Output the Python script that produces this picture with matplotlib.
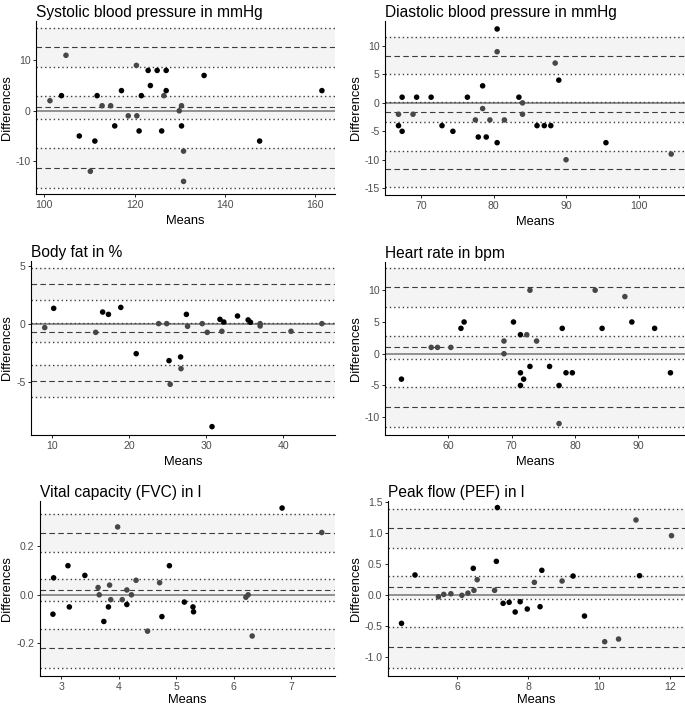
import matplotlib
matplotlib.use('Agg')
import matplotlib.pyplot as plt

plt.rcParams['font.family'] = ['Liberation Sans', 'DejaVu Sans']
plt.rcParams['axes.unicode_minus'] = False

# ---- data: means (x), differences (y), shade (0 = black, 1 = dark grey) ----
sys_x = [101.25, 103.8, 104.8, 107.75, 110.2, 111.2, 111.7, 112.8, 114.7, 115.6, 117.1,
         118.6, 120.4, 120.5, 121.0, 121.5, 123.0, 123.5, 125.0, 126.0, 126.5, 127.0,
         127.0, 129.9, 130.4, 130.4, 130.85, 130.85, 135.4, 147.7, 161.5]
sys_y = [2, 3, 11, -5, -12, -6, 3, 1, 1, -3, 4, -1, 9, -1, -4, 3, 8, 5, 8, -4, 3, 8,
         4, 0, -3, 1, -8, -14, 7, -6, 4]
sys_c = [1, 0, 1, 0, 1, 0, 0, 1, 1, 0, 0, 1, 1, 1, 0, 0, 0, 0, 0, 0, 1, 0,
         0, 1, 0, 1, 1, 1, 0, 0, 0]

dia_x = [66.9, 66.9, 67.4, 67.4, 68.9, 69.4, 71.4, 72.9, 74.4, 76.4, 77.5, 77.9, 78.5,
         78.5, 79.0, 79.5, 80.5, 80.5, 80.5, 81.5, 83.5, 84.0, 84.0, 86.0, 87.0, 87.9,
         88.5, 89.0, 90.0, 95.5, 104.5]
dia_y = [-2, -4, 1, -5, -2, 1, 1, -4, -5, 1, -3, -6, 3, -1, -6, -3, 13, 9, -7, -3, 1,
         0, -2, -4, -4, -4, 7, 4, -10, -7, -9]
dia_c = [1, 0, 0, 0, 1, 0, 0, 0, 0, 0, 1, 0, 0, 1, 0, 1, 0, 1, 0, 1, 0, 1, 1, 0, 0, 0,
         1, 0, 1, 0, 1]

fat_x = [9.1, 10.26, 15.7, 16.6, 17.35, 18.95, 20.95, 23.85, 24.9, 25.2, 25.35, 26.7,
         26.75, 27.45, 27.6, 29.5, 30.15, 30.77, 31.8, 32.05, 32.3, 34.07, 35.45, 35.75,
         37.0, 37.0, 41.0, 45.0]
fat_y = [-0.34, 1.32, -0.75, 1.0, 0.8, 1.4, -2.59, 0.0, 0.0, -3.19, -5.23, -2.87, -3.88,
         0.8, -0.23, 0.0, -0.75, -8.88, 0.37, -0.66, 0.14, 0.66, 0.32, 0.12, 0.0, -0.2,
         -0.66, 0.0]
fat_c = [1, 0, 1, 0, 0, 0, 0, 1, 1, 0, 1, 0, 1, 0, 1, 1, 1, 0, 0, 1, 0, 0, 0, 0, 1, 1,
         1, 1]

hr_x = [52.6, 57.3, 58.3, 60.4, 62.0, 62.5, 68.8, 68.8, 70.3, 71.4, 71.4, 71.4, 71.9,
        72.4, 72.9, 72.9, 73.95, 76.0, 77.5, 77.5, 78.0, 78.6, 79.6, 83.2, 84.3, 87.9,
        89.0, 92.6, 95.1]
hr_y = [-4, 1, 1, 1, 4, 5, 2, 0, 5, 3, -3, -5, -4, 3, 10, -2, 2, -2, -5, -11, 4, -3, -3,
        10, 4, 9, 5, 4, -3]
hr_c = [0, 1, 1, 1, 0, 0, 1, 1, 0, 0, 0, 0, 0, 1, 1, 0, 1, 0, 0, 1, 0, 0, 0, 1, 0, 1,
        0, 0, 0]

fvc_x = [2.855, 2.867, 3.116, 3.14, 3.41, 3.64, 3.66, 3.74, 3.82, 3.84, 3.86, 3.98, 4.06,
         4.14, 4.14, 4.22, 4.30, 4.50, 4.71, 4.75, 4.88, 5.14, 5.29, 5.30, 6.21, 6.25,
         6.32, 6.84, 7.53]
fvc_y = [-0.08, 0.07, 0.12, -0.05, 0.08, 0.03, 0.0, -0.11, -0.05, 0.04, -0.02, 0.28, -0.02,
         0.02, -0.04, 0.0, 0.06, -0.15, 0.05, -0.09, 0.12, -0.03, -0.05, -0.07, -0.01, 0.0,
         -0.17, 0.358, 0.257]
fvc_c = [0, 0, 0, 0, 0, 1, 1, 0, 0, 1, 1, 1, 1, 1, 0, 1, 1, 1, 1, 0, 0, 0, 0, 0, 1, 1,
         1, 0, 1]

pef_x = [4.43, 4.81, 5.47, 5.62, 5.82, 6.13, 6.30, 6.45, 6.47, 6.56, 7.05, 7.10, 7.13,
         7.29, 7.46, 7.63, 7.77, 7.97, 8.17, 8.33, 8.38, 8.95, 9.26, 9.58, 10.15, 10.54,
         11.03, 11.13, 12.03]
pef_y = [-0.457, 0.323, -0.03, 0.01, 0.02, -0.005, 0.03, 0.43, 0.075, 0.247, 0.075, 0.543,
         1.41, -0.134, -0.118, -0.274, -0.108, -0.226, 0.204, -0.188, 0.398, 0.226, 0.306,
         -0.339, -0.753, -0.71, 1.21, 0.312, 0.957]
pef_c = [0, 0, 1, 1, 1, 1, 1, 0, 1, 1, 1, 0, 0, 0, 0, 0, 0, 0, 1, 0, 0, 1, 0, 0, 1, 1,
         1, 0, 1]

# reference lines: upper LoA (CI hi, est, CI lo), mean (hi, est, lo), lower LoA (hi, est, lo)
sys_lines = [16.36, 12.58, 8.74, 2.91, 0.66, -1.59, -7.35, -11.32, -15.23]
dia_lines = [11.56, 8.29, 5.14, 0.18, -1.69, -3.44, -8.41, -11.56, -14.83]
fat_lines = [4.8, 3.45, 2.07, 0.03, -0.75, -1.58, -3.59, -4.94, -6.32]
hr_lines = [13.5, 10.45, 7.35, 2.83, 1.0, -0.79, -5.3, -8.45, -11.55]
fvc_lines = [0.334, 0.254, 0.176, 0.065, 0.018, -0.0275, -0.14, -0.221, -0.301]
pef_lines = [1.387, 1.075, 0.753, 0.306, 0.124, -0.07, -0.52, -0.844, -1.17]

titles = ['Systolic blood pressure in mmHg', 'Diastolic blood pressure in mmHg',
          'Body fat in %', 'Heart rate in bpm', 'Vital capacity (FVC) in l', 'Peak flow (PEF) in l']

xticks = [[100, 120, 140, 160], [70, 80, 90, 100], [10, 20, 30, 40], [60, 70, 80, 90],
          [3, 4, 5, 6, 7], [6, 8, 10, 12]]
yticks = [[-10, 0, 10], [-15, -10, -5, 0, 5, 10], [-5, 0, 5], [-10, -5, 0, 5, 10],
          [-0.2, 0.0, 0.2], [-1.0, -0.5, 0.0, 0.5, 1.0, 1.5]]
yfmt = ['{:g}', '{:g}', '{:g}', '{:g}', '{:.1f}', '{:.1f}']

panels = [(sys_x, sys_y, sys_c, sys_lines), (dia_x, dia_y, dia_c, dia_lines),
          (fat_x, fat_y, fat_c, fat_lines), (hr_x, hr_y, hr_c, hr_lines),
          (fvc_x, fvc_y, fvc_c, fvc_lines), (pef_x, pef_y, pef_c, pef_lines)]

# layout (pixels: left, right, top, bottom) and axis limits
W, H = 685, 706
boxes = [(36, 335, 21, 194), (385, 685, 21, 195), (31, 335, 261, 435),
         (385, 685, 262, 435), (40, 335, 501, 676), (388, 685, 501, 676)]
xlims = [(98.16, 164.4), (65.04, 106.4), (7.32, 46.7), (50.0, 97.4), (2.63, 7.76), (4.05, 12.41)]
ylims = [(-16.5, 17.8), (-16.2, 14.4), (-9.6, 5.4), (-12.8, 14.45), (-0.335, 0.387), (-1.306, 1.516)]
ylabel_x = [13, 362, 13, 362, 13, 362]
xlabel_pad = [4, 4, 4, 4, 1.5, 1.5]

BAND = '#f4f4f4'
LINE = '#3d3d3d'
PT = {0: '#000000', 1: '#474747'}

fig = plt.figure(figsize=(W / 100, H / 100), dpi=100)

for i, (xs, ys, cs, lines) in enumerate(panels):
    l, r, t, b = boxes[i]
    ax = fig.add_axes([l / W, 1 - b / H, (r - l) / W, (b - t) / H])
    # CI bands
    for hi, lo in [(lines[0], lines[2]), (lines[3], lines[5]), (lines[6], lines[8])]:
        ax.axhspan(lo, hi, color=BAND, lw=0, zorder=0)
    ax.axhline(0, color='#808080', lw=1.2, zorder=1)
    for k, v in enumerate(lines):
        if k % 3 == 1:
            ax.axhline(v, color=LINE, lw=0.8, ls=(0, (5, 3)), zorder=2)
        else:
            ax.axhline(v, color=LINE, lw=1.0, ls=(0, (1, 2.1)), zorder=2)
    ax.scatter(xs, ys, s=16, c=[PT[c] for c in cs], linewidths=0, zorder=3)

    ax.set_xlim(*xlims[i])
    ax.set_ylim(*ylims[i])
    ax.set_xticks(xticks[i])
    ax.set_yticks(yticks[i])
    ax.set_yticklabels([yfmt[i].format(v) for v in yticks[i]])
    ax.tick_params(labelsize=7.6, labelcolor='#4d4d4d', length=2.5, width=0.6, pad=1.5)
    for s in ['top', 'right']:
        ax.spines[s].set_visible(False)
    for s in ['left', 'bottom']:
        ax.spines[s].set_linewidth(0.8)
    ax.set_title(titles[i], loc='left', fontsize=11.2, pad=3)
    ax.set_xlabel('Means', fontsize=9.3, labelpad=xlabel_pad[i])
    ax.set_ylabel('Differences', fontsize=9.3)
    ax.yaxis.set_label_coords((ylabel_x[i] - l) / (r - l), 0.5)

fig.savefig('out.png', dpi=100, facecolor='white')
